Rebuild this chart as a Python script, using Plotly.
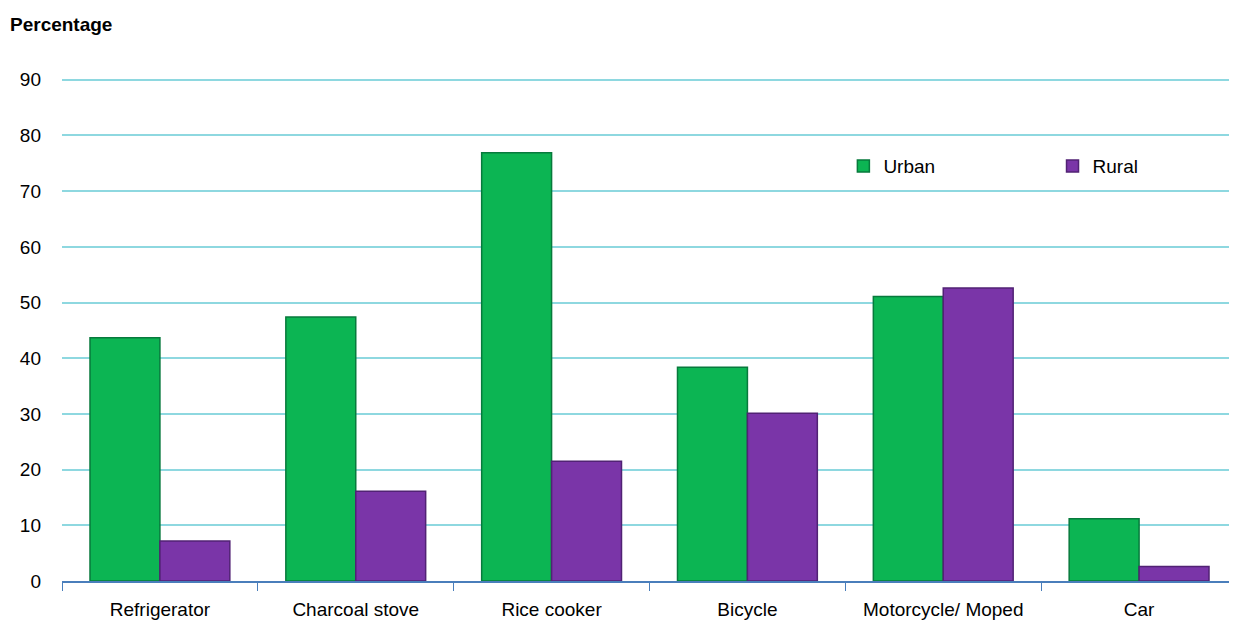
import plotly.graph_objects as go

categories = ["Refrigerator", "Charcoal stove", "Rice cooker", "Bicycle", "Motorcycle/ Moped", "Car"]
urban = [43.7, 47.4, 76.9, 38.4, 51.1, 11.2]
rural = [7.2, 16.1, 21.5, 30.1, 52.6, 2.6]
y_ticks = [0, 10, 20, 30, 40, 50, 60, 70, 80, 90]

W, H = 1229, 615

fig = go.Figure()
fig.add_trace(go.Bar(
    name="Urban", x=categories, y=urban, legend="legend",
    marker=dict(color="#0CB553", line=dict(color="#077A3C", width=1.5)),
))
fig.add_trace(go.Bar(
    name="Rural", x=categories, y=rural, legend="legend2",
    marker=dict(color="#7A35A8", line=dict(color="#512274", width=1.5)),
))

legend_common = dict(orientation="h", xanchor="left", yanchor="middle",
                     font=dict(size=19), bgcolor="rgba(0,0,0,0)")

fig.update_layout(
    width=W, height=H,
    barmode="group", bargap=0.286, bargroupgap=0,
    plot_bgcolor="white", paper_bgcolor="white",
    margin=dict(l=54, r=0, t=69, b=42, autoexpand=False),
    font=dict(family="Liberation Sans, Arial, sans-serif", size=19, color="#000000"),
    title=dict(text="<b>Percentage</b>", x=2/W, xref="container", xanchor="left",
               y=1-16/H, yref="container", yanchor="middle",
               font=dict(size=19, color="#000000")),
    legend=dict(x=0.665, y=0.823, **legend_common),
    legend2=dict(x=0.843, y=0.823, **legend_common),
    xaxis=dict(
        showline=True, linecolor="#4A7EBB", linewidth=1.5,
        ticks="outside", tickson="boundaries", ticklen=8, tickcolor="#4A7EBB",
        tickfont=dict(size=19), showgrid=False, ticklabelstandoff=10,
    ),
    yaxis=dict(
        range=[0, 90.5], tickvals=y_ticks, showgrid=True, gridcolor="#8ED8E0", gridwidth=1.5,
        zeroline=False, showline=False, ticks="", ticklabelstandoff=20,
        tickfont=dict(size=19),
    ),
    showlegend=True,
)

fig.write_html("out.html")
